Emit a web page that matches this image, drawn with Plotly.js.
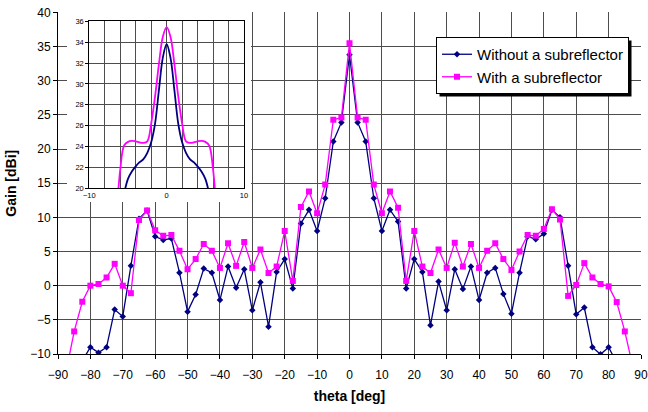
<!DOCTYPE html>
<html><head><meta charset="utf-8">
<script src="https://cdn.plot.ly/plotly-3.0.1.min.js"></script>
<style>html,body{margin:0;padding:0;background:#fff;} #chart{width:648px;height:412px;}</style>
</head><body><div id="chart"></div>
<script>
// ---- data ----
const theta = [-87.5,-85,-82.5,-80,-77.5,-75,-72.5,-70,-67.5,-65,-62.5,-60,-57.5,-55,-52.5,-50,-47.5,-45,-42.5,-40,-37.5,-35,-32.5,-30,-27.5,-25,-22.5,-20,-17.5,-15,-12.5,-10,-7.5,-5,-2.5,0,2.5,5,7.5,10,12.5,15,17.5,20,22.5,25,27.5,30,32.5,35,37.5,40,42.5,45,47.5,50,52.5,55,57.5,60,62.5,65,67.5,70,72.5,75,77.5,80,82.5,85,87.5];
const gainWithout = [null,null,-11,-9.0,-9.8,-9.0,-3.5,-4.5,2.9,9.8,11.0,7.2,6.7,6.9,1.9,-3.8,-1.3,2.5,1.9,-2.1,2.8,-0.3,2.4,-3.6,0.5,-6.0,2.0,3.9,-0.4,9.1,11.1,8.0,12.8,21.1,23.9,33.8,23.9,21.1,12.8,8.0,11.1,9.4,-0.4,3.9,2.0,-5.8,0.6,-3.6,2.4,-0.5,2.8,-2.1,1.9,2.6,-1.2,-4.1,1.9,7.2,6.8,7.6,11.1,10.0,2.9,-4.2,-3.2,-9.0,-10.05,-9.0,-11.3,null,null];
const gainWith = [-12.6,-6.7,-2.35,0.0,0.25,1.2,3.2,0.0,-1.1,9.6,11.0,8.1,7.3,7.4,5.1,2.4,3.9,6.1,5.1,2.6,6.2,2.9,6.4,2.6,5.3,1.85,2.8,8.0,0.7,11.5,13.8,10.6,14.8,24.3,24.6,35.5,24.6,24.3,14.8,10.6,13.8,11.4,0.7,8.0,2.8,1.85,5.3,2.6,6.3,2.8,6.1,2.6,5.1,6.2,3.9,2.3,5.0,7.4,7.3,8.3,11.2,9.7,-1.5,0.1,3.3,1.2,0.25,-0.1,-2.4,-6.7,-11.9];
const insetTheta = [-7,-6.5,-6,-5.5,-5,-4.5,-4,-3.5,-3,-2.5,-2,-1.5,-1,-0.5,0,0.5,1,1.5,2,2.5,3,3.5,4,4.5,5,5.5,6,6.5,7];
const insetWithout = [14,15.5,17.6,19.5,20.9,21.6,22.1,22.5,22.8,23.4,24.4,26.2,29.4,32.5,33.8,32.5,29.4,26.2,24.4,23.4,22.8,22.5,22.1,21.6,20.9,19.5,17.6,15.5,14];
const insetWith = [14,17.5,21.8,24.1,24.45,24.55,24.5,24.4,24.35,24.5,26.2,28.8,31.9,34.5,35.45,34.5,31.9,28.8,26.2,24.5,24.35,24.4,24.5,24.55,24.45,24.1,21.8,17.5,14];
const seriesNames = ['Without a subreflector','With a subreflector'];
const xTitle = 'theta [deg]';
const yTitle = 'Gain [dBi]';

// ---- styling ----
const F = '"Liberation Sans", Arial, sans-serif';
const gridC = '#4d4d4d';
const navy = '#000080', magenta = '#ff00ff';
const W = 648, H = 412, M = {l:58, r:7, t:4, b:58};
const pw = W - M.l - M.r, ph = H - M.t - M.b;
const px2x = p => (p - M.l) / pw;
const px2y = p => (H - M.b - p) / ph;

const traces = [
  {x: theta, y: gainWithout, name: seriesNames[0], type: 'scatter', mode: 'lines+markers',
   line: {color: navy, width: 1.3}, marker: {symbol: 'diamond', size: 5, color: navy}, xaxis: 'x', yaxis: 'y'},
  {x: theta, y: gainWith, name: seriesNames[1], type: 'scatter', mode: 'lines+markers',
   line: {color: magenta, width: 1.3}, marker: {symbol: 'square', size: 6, color: magenta}, xaxis: 'x', yaxis: 'y'},
  {x: [], y: [], xaxis: 'x2', yaxis: 'y2', showlegend: false, hoverinfo: 'skip', type: 'scatter'},
  {x: insetTheta, y: insetWithout, type: 'scatter', mode: 'lines', line: {color: navy, width: 1.8, shape: 'spline'},
   xaxis: 'x3', yaxis: 'y3', showlegend: false},
  {x: insetTheta, y: insetWith, type: 'scatter', mode: 'lines', line: {color: magenta, width: 1.8, shape: 'spline'},
   xaxis: 'x3', yaxis: 'y3', showlegend: false}
];

const layout = {
  width: W, height: H, margin: {l: M.l, r: M.r, t: M.t, b: M.b, pad: 0},
  paper_bgcolor: '#fff', plot_bgcolor: '#fff',
  font: {family: F, size: 12, color: '#000'},
  showlegend: true,
  legend: {x: px2x(436), y: px2y(37), xanchor: 'left', yanchor: 'top', bgcolor: '#fff',
           bordercolor: '#000', borderwidth: 1, font: {family: F, size: 15, color: '#000'}},
  xaxis: {domain: [0, 1], anchor: 'y', range: [-90, 90], tick0: 0, dtick: 10, showgrid: true, gridcolor: gridC, gridwidth: 1,
          zeroline: false, showline: true, linecolor: '#000', linewidth: 1, ticks: 'outside', ticklen: 4, tickcolor: '#000',
          ticklabelstandoff: 6,
          tickfont: {family: F, size: 12}, title: {text: '<b>' + xTitle + '</b>', font: {family: F, size: 14}, standoff: 9}},
  yaxis: {domain: [0, px2y(12.4)], anchor: 'x', range: [-10, 40], tick0: 0, dtick: 5, showgrid: true, gridcolor: gridC, gridwidth: 1,
          zeroline: false, showline: true, linecolor: '#000', linewidth: 1, ticks: 'outside', ticklen: 4, tickcolor: '#000',
          tickfont: {family: F, size: 12}, title: {text: '<b>' + yTitle + '</b>', font: {family: F, size: 14}, standoff: 10}},
  xaxis2: {domain: [px2x(67), px2x(251)], anchor: 'y2', range: [0, 1], showgrid: false, zeroline: false,
           showticklabels: false, ticks: '', showline: false},
  yaxis2: {domain: [px2y(202), px2y(8)], anchor: 'x2', range: [0, 1], showgrid: false, zeroline: false,
           showticklabels: false, ticks: '', showline: false},
  xaxis3: {domain: [px2x(89.3), px2x(244)], anchor: 'y3', range: [-10, 10], tick0: 0, dtick: 10,
           showgrid: true, gridcolor: gridC, gridwidth: 1, minor: {dtick: 2, showgrid: true, gridcolor: gridC, gridwidth: 1},
           zeroline: false, showline: true, mirror: true, linecolor: '#000', linewidth: 1, ticks: '',
           tickfont: {family: F, size: 7.5}},
  yaxis3: {domain: [px2y(188.3), px2y(21.3)], anchor: 'x3', range: [20, 36], tick0: 20, dtick: 2,
           showgrid: true, gridcolor: gridC, gridwidth: 1, zeroline: false, showline: true, mirror: true,
           linecolor: '#000', linewidth: 1, ticks: 'outside', ticklen: 3, tickcolor: '#000',
           tickfont: {family: F, size: 7.5}},
  shapes: []
};

Plotly.newPlot('chart', traces, layout, {staticPlot: true, displayModeBar: false}).then(gd => {
  const bg = gd.querySelector('.legend .bg');
  if (!bg) return;
  const r = bg.getBoundingClientRect();
  const g = gd.getBoundingClientRect();
  const x0 = r.left - g.left + 3, x1 = r.right - g.left + 3, y0 = r.top - g.top + 3, y1 = r.bottom - g.top + 3;
  return Plotly.relayout(gd, {shapes: [{type: 'rect', xref: 'paper', yref: 'paper', layer: 'above',
    x0: px2x(x0), x1: px2x(x1), y0: px2y(y1), y1: px2y(y0), fillcolor: '#000', line: {width: 0}}]});
});
</script>
</body></html>
